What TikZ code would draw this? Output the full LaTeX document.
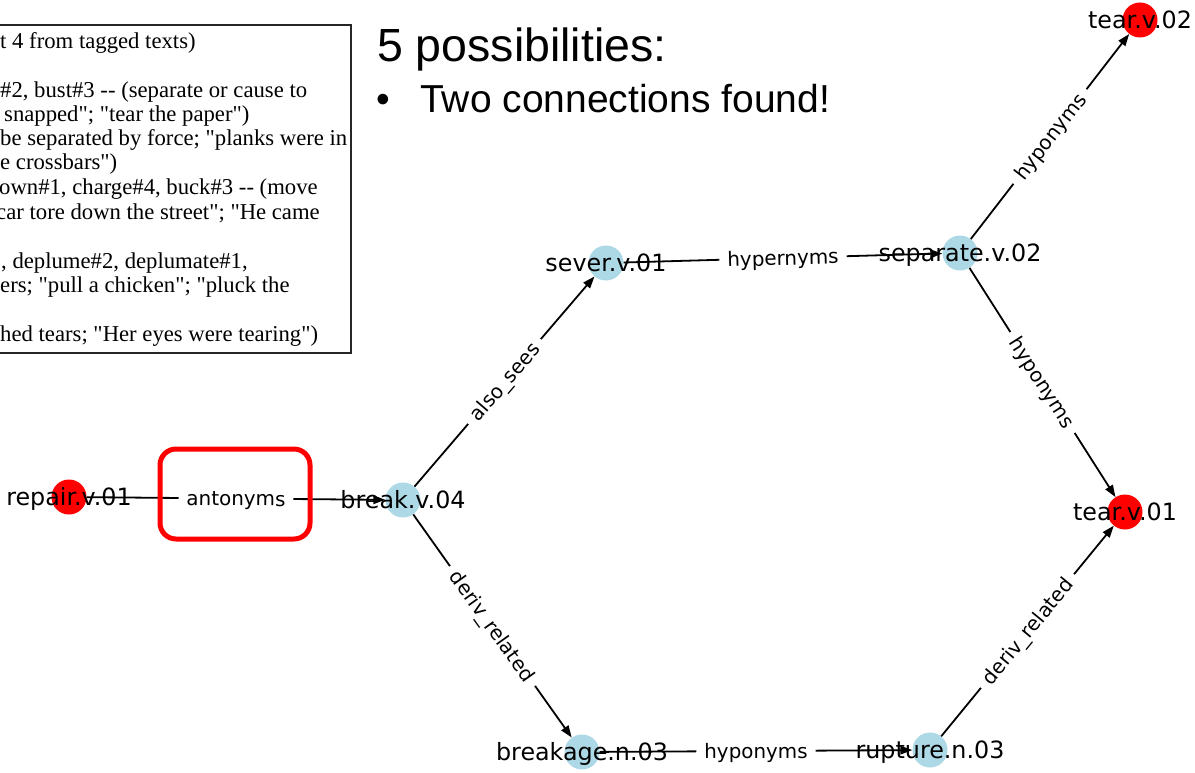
\documentclass[tikz,border=0pt]{standalone}
\usepackage{fontspec}
\newfontfamily\serfont{Liberation Serif}
\newfontfamily\dvfont{DejaVu Sans}
\newfontfamily\hdfont{Liberation Sans}
\usetikzlibrary{arrows.meta}
\definecolor{lblue}{RGB}{173,216,230}
\begin{document}
\begin{tikzpicture}[x=1pt,y=-1pt,
  bluenode/.style={circle,fill=lblue,minimum size=35pt,inner sep=0pt},
  rednode/.style={circle,fill=red,minimum size=35pt,inner sep=0pt},
  nlabel/.style={font=\dvfont\fontsize{23.8}{28}\selectfont,inner sep=0pt,text height=17.3pt,text depth=0pt},
  elabel/.style={font=\dvfont\fontsize{19.9}{24}\selectfont,fill=white,inner xsep=8pt,inner ysep=6pt,text height=14.5pt,text depth=0pt,sloped,midway},
  conn/.style={draw=black,line width=1.8pt,-{Triangle[length=12pt,width=8.5pt]}},
  txt/.style={anchor=base west,inner sep=0pt,font=\serfont\fontsize{22.7}{24}\selectfont},
]
\useasboundingbox (0,0) rectangle (1195,773);
\fill[white] (0,0) rectangle (1195,773);
\clip (0,0) rectangle (1195,773);

% text box
\draw[line width=1.5pt,draw=black!85] (-10,25) rectangle (351,353);
\node[txt] (l0) at (0,49) {t 4 from tagged texts)};
\node[txt] (l2) at (0,97.5) {\#2, bust\#3 -- (separate or cause to};
\node[txt] (l3) at (4,121.5) {snapped"; "tear the paper")};
\node[txt] (l4) at (0,146) {be separated by force; "planks were in};
\node[txt] (l5) at (0,170) {e crossbars")};
\node[txt] (l6) at (-1,195) {own\#1, charge\#4, buck\#3 -- (move};
\node[txt] (l7) at (-4,219) {car tore down the street"; "He came};
\node[txt] (l9) at (1,268) {, deplume\#2, deplumate\#1,};
\node[txt] (l10) at (0,292) {ers; "pull a chicken"; "pluck the};
\node[txt] (l12) at (0,341) {hed tears; "Her eyes were tearing")};

% heading
\node[anchor=base west,inner sep=0pt,font=\hdfont\fontsize{46.5}{52}\selectfont] (title) at (377,62) {5 possibilities:};
\node[anchor=base west,inner sep=0pt,font=\hdfont\fontsize{39}{44}\selectfont] (bullet) at (376,113) {•};
\node[anchor=base west,inner sep=0pt,font=\hdfont\fontsize{39}{44}\selectfont] (found) at (420,113) {Two connections found!};

% circles
\node[rednode] (repair) at (69,497) {};
\node[bluenode] (brk) at (403,500) {};
\node[bluenode] (sever) at (606,263) {};
\node[bluenode] (sep) at (960,253) {};
\node[rednode] (tearb) at (1140,20) {};
\node[rednode] (teara) at (1125,512) {};
\node[bluenode] (brkg) at (582,752) {};
\node[bluenode] (rupt) at (930,750) {};

% edges
\path[conn] (repair) -- (brk) node[elabel] {antonyms};
\path[conn] (brk) -- (sever) node[elabel] {also\_sees};
\path[conn] (sever) -- (sep) node[elabel] {hypernyms};
\path[conn] (sep) -- (tearb) node[elabel] {hyponyms};
\path[conn] (sep) -- (teara) node[elabel] {hyponyms};
\path[conn] (brk) -- (brkg) node[elabel] {deriv\_related};
\path[conn] (brkg) -- (rupt) node[elabel] {hyponyms};
\path[conn] (rupt) -- (teara) node[elabel] {deriv\_related};

% node labels
\node[nlabel] at (repair) {repair.v.01};
\node[nlabel] at (brk) {break.v.04};
\node[nlabel] at (sever) {sever.v.01};
\node[nlabel] at (sep) {separate.v.02};
\node[nlabel] at (tearb) {tear.v.02};
\node[nlabel] at (teara) {tear.v.01};
\node[nlabel] at (brkg) {breakage.n.03};
\node[nlabel] at (rupt) {rupture.n.03};

% highlight box
\draw[red,line width=5pt,rounded corners=16pt] (160,449) rectangle (310,539);
\end{tikzpicture}
\end{document}
